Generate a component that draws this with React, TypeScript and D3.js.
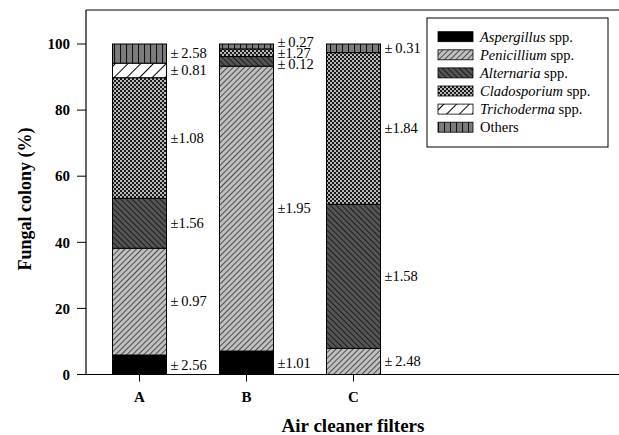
import React from "react";
import * as d3 from "d3";

const categories = ["A", "B", "C"];
const species = ["Aspergillus", "Penicillium", "Alternaria", "Cladosporium", "Trichoderma", "Others"];
const italicGenus = [true, true, true, true, true, false];
const valuesA = [5.9, 32.3, 15.1, 36.5, 4.4, 5.8];
const valuesB = [7.1, 86.2, 2.9, 2.3, 0, 1.5];
const valuesC = [0, 7.9, 43.6, 45.9, 0, 2.6];
const errorsA = [2.56, 0.97, 1.56, 1.08, 0.81, 2.58];
const errorsB = [1.01, 1.95, 0.12, 1.27, null, 0.27];
const errorsC = [null, 2.48, 1.58, 1.84, null, 0.31];
const yTicks = [0, 20, 40, 60, 80, 100];

const seriesValues = [valuesA, valuesB, valuesC];
const seriesErrors = [errorsA, errorsB, errorsC];

const W = 619;
const H = 435;
const left = 86;
const right = 619;
const bottom = 374.5;
const top = 10;
const font = "'Liberation Serif', 'Times New Roman', serif";
const patIds = ["pAsp", "pPen", "pAlt", "pCla", "pTri", "pOth"];

function resolveLabels(ys: number[], gap: number): number[] {
  let clusters = ys.map((y, i) => ({ idx: [i], center: y }));
  clusters.sort((a, b) => a.center - b.center);
  let changed = true;
  while (changed) {
    changed = false;
    for (let i = 0; i < clusters.length - 1; i++) {
      const a = clusters[i], b = clusters[i + 1];
      const aEnd = a.center + ((a.idx.length - 1) * gap) / 2;
      const bStart = b.center - ((b.idx.length - 1) * gap) / 2;
      if (bStart - aEnd < gap) {
        const idx = [...a.idx, ...b.idx];
        const center = idx.reduce((s, k) => s + ys[k], 0) / idx.length;
        clusters.splice(i, 2, { idx, center });
        changed = true;
        break;
      }
    }
  }
  const out = new Array(ys.length).fill(0);
  clusters.forEach((c) => {
    const sorted = [...c.idx].sort((p, q) => ys[p] - ys[q]);
    sorted.forEach((k, j) => {
      out[k] = c.center + (j - (sorted.length - 1) / 2) * gap;
    });
  });
  return out;
}

function fmt(e: number): string {
  const s = e.toFixed(2);
  return s.startsWith("1") ? `±${s}` : `±\u2009${s}`;
}

export default function App() {
  const y = d3.scaleLinear().domain([0, 100]).range([bottom, 44]);
  const x = d3.scalePoint<string>().domain(categories).range([139.5, 353.5]);
  const barW = 54;
  const stack = d3
    .stack<number[]>()
    .keys(species.map((_, i) => String(i)))
    .value((d, key) => d[+key]);
  const layers = stack(seriesValues);

  return (
    <svg width={W} height={H} style={{ position: "absolute", left: 0, top: 0, background: "#fff" }} fontFamily={font}>
      <defs>
        <pattern id="pPen" width="4" height="4" patternUnits="userSpaceOnUse" patternTransform="rotate(45)">
          <rect width="4" height="4" fill="#c0c0c0" />
          <line x1="0" y1="0" x2="0" y2="4" stroke="#1a1a1a" strokeWidth="1.4" />
        </pattern>
        <pattern id="pAlt" width="4" height="4" patternUnits="userSpaceOnUse" patternTransform="rotate(-45)">
          <rect width="4" height="4" fill="#555" />
          <line x1="0" y1="0" x2="0" y2="4" stroke="#0a0a0a" strokeWidth="1.5" />
        </pattern>
        <pattern id="pCla" width="4" height="4" patternUnits="userSpaceOnUse">
          <rect width="4" height="4" fill="#1a1a1a" />
          <circle cx="1" cy="1" r="0.95" fill="#fff" />
          <circle cx="3" cy="3" r="0.95" fill="#fff" />
        </pattern>
        <pattern id="pTri" width="9" height="9" patternUnits="userSpaceOnUse" patternTransform="rotate(45)">
          <rect width="9" height="9" fill="#fff" />
          <line x1="0" y1="0" x2="0" y2="9" stroke="#000" strokeWidth="2" />
        </pattern>
        <pattern id="pOth" width="6" height="6" patternUnits="userSpaceOnUse">
          <rect width="6" height="6" fill="#7c7c7c" />
          <line x1="0.5" y1="0" x2="0.5" y2="6" stroke="#111" strokeWidth="1.1" />
        </pattern>
      </defs>

      {/* frame */}
      <line x1={left} x2={right} y1={top} y2={top} stroke="#000" strokeWidth={1} />
      <line x1={left} x2={left} y1={top} y2={bottom} stroke="#000" strokeWidth={1.2} />
      <line x1={left} x2={right} y1={bottom} y2={bottom} stroke="#000" strokeWidth={1.2} />

      {/* y axis */}
      {yTicks.map((t) => (
        <g key={t}>
          <line x1={left - 9} x2={left} y1={y(t)} y2={y(t)} stroke="#000" />
          <text x={left - 16} y={y(t)} dy="0.35em" textAnchor="end" fontSize={15} fontWeight="bold">
            {t}
          </text>
        </g>
      ))}
      <text
        transform={`translate(25,199) rotate(-90)`}
        textAnchor="middle"
        dy="0.35em"
        fontSize={18}
        fontWeight="bold"
      >
        Fungal colony (%)
      </text>

      {/* x axis */}
      {categories.map((c) => (
        <g key={c}>
          <line x1={x(c)!} x2={x(c)!} y1={bottom} y2={bottom + 7} stroke="#000" />
          <text x={x(c)!} y={bottom + 27} textAnchor="middle" fontSize={15} fontWeight="bold">
            {c}
          </text>
        </g>
      ))}
      <text x={353} y={432} textAnchor="middle" fontSize={19} fontWeight="bold">
        Air cleaner filters
      </text>

      {/* bars */}
      {layers.map((layer, si) =>
        layer.map((seg, ci) => {
          if (seg[1] - seg[0] <= 0) return null;
          const cx = x(categories[ci])!;
          return (
            <rect
              key={`${si}-${ci}`}
              x={cx - barW / 2}
              y={y(seg[1])}
              width={barW}
              height={y(seg[0]) - y(seg[1])}
              fill={si === 0 ? "#000" : `url(#${patIds[si]})`}
              stroke="#000"
              strokeWidth={1}
            />
          );
        })
      )}

      {/* error labels */}
      {categories.map((c, ci) => {
        const items: { y: number; text: string }[] = [];
        layers.forEach((layer, si) => {
          const seg = layer[ci];
          const e = seriesErrors[ci][si];
          if (e == null) return;
          items.push({ y: (y(seg[0]) + y(seg[1])) / 2, text: fmt(e) });
        });
        const ys = resolveLabels(items.map((d) => d.y), 11);
        return items.map((it, k) => (
          <text key={`${c}-${k}`} x={x(c)! + barW / 2 + 4} y={ys[k]} dy="0.33em" fontSize={14.5}>
            {it.text}
          </text>
        ));
      })}

      {/* legend */}
      <rect x={427} y={18} width={181} height={129} fill="#fff" stroke="#000" strokeWidth={1} />
      {species.map((s, i) => {
        const cy = 36.7 + i * 18.1;
        return (
          <g key={s}>
            <rect
              x={438}
              y={cy - 5}
              width={35}
              height={10}
              fill={i === 0 ? "#000" : `url(#${patIds[i]})`}
              stroke="#000"
              strokeWidth={0.8}
            />
            <text x={480} y={cy} dy="0.35em" fontSize={14.5}>
              {italicGenus[i] ? (
                <>
                  <tspan fontStyle="italic">{s}</tspan>
                  <tspan> spp.</tspan>
                </>
              ) : (
                s
              )}
            </text>
          </g>
        );
      })}
    </svg>
  );
}
